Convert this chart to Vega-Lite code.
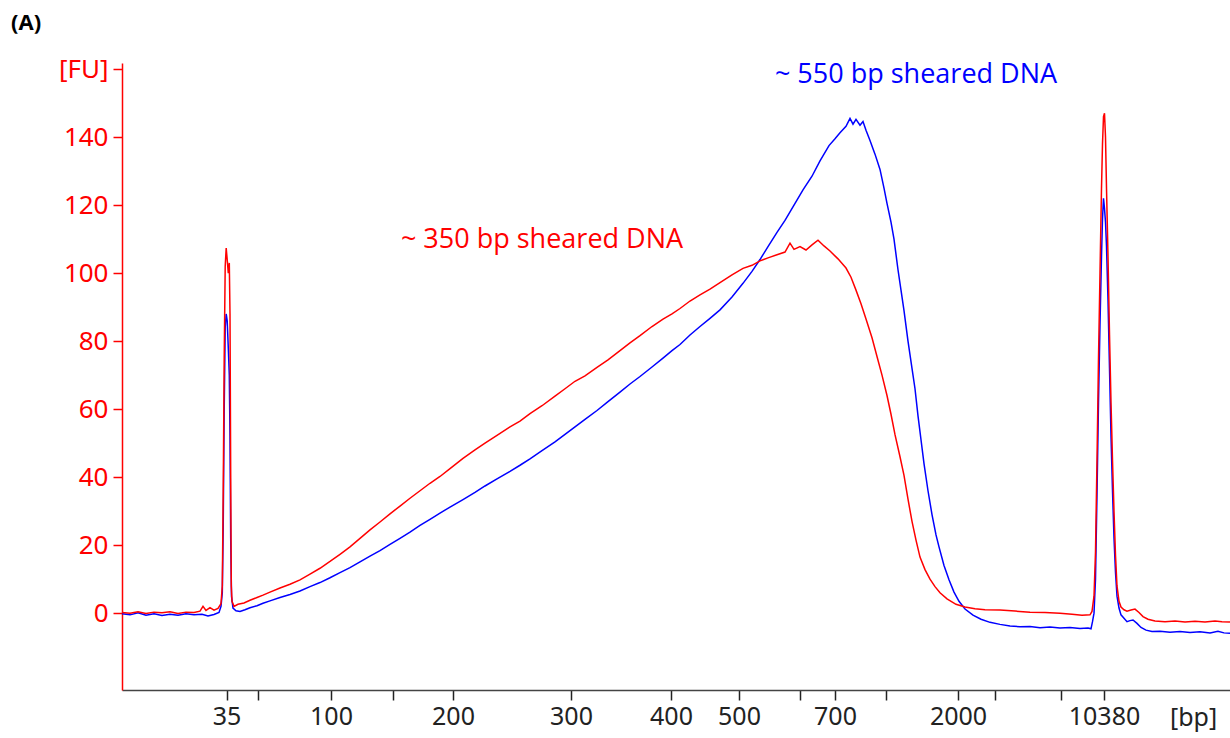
{
  "$schema": "https://vega.github.io/schema/vega-lite/v6.json",
  "width": 1108,
  "height": 627,
  "autosize": {"type": "none"},
  "padding": {"left": 122, "top": 63, "right": 0, "bottom": 48},
  "background": "white",
  "title": {"text": "(A)", "anchor": "start", "frame": "group", "dx": -111, "offset": 21, "fontSize": 22, "fontWeight": "bold", "font": "Open Sans", "color": "#000000"},
  "config": {"view": {"stroke": null}},
  "datasets": {
    "s350": [
      {"t":0.0,"fu":0.2},{"t":0.8,"fu":0.0},{"t":1.6,"fu":0.4},{"t":2.4,"fu":-0.1},{"t":3.2,"fu":0.3},{"t":4.0,"fu":0.1},{"t":4.8,"fu":0.4},{"t":5.6,"fu":-0.1},{"t":6.4,"fu":0.3},{"t":7.2,"fu":0.2},{"t":7.8,"fu":0.6},{"t":8.1,"fu":2.0},{"t":8.4,"fu":0.8},{"t":8.8,"fu":1.6},{"t":9.2,"fu":0.9},{"t":9.6,"fu":1.4},{"t":9.9,"fu":2.8},
      {"t":10.03,"fu":8},{"t":10.12,"fu":35},{"t":10.22,"fu":75},{"t":10.32,"fu":102},{"t":10.42,"fu":107.4},{"t":10.52,"fu":104},{"t":10.63,"fu":100},{"t":10.73,"fu":103},{"t":10.8,"fu":88},{"t":10.87,"fu":40},{"t":10.93,"fu":8},{"t":11.0,"fu":3.5},
      {"t":11.2,"fu":2.0},{"t":11.6,"fu":2.6},{"t":12.2,"fu":3.0},{"t":12.8,"fu":3.8},{"t":13.5,"fu":4.6},{"t":14.1,"fu":5.3},{"t":14.8,"fu":6.2},{"t":15.8,"fu":7.4},{"t":16.8,"fu":8.5},{"t":17.8,"fu":9.8},{"t":18.8,"fu":11.5},{"t":19.8,"fu":13.2},{"t":20.8,"fu":15.2},{"t":21.8,"fu":17.3},{"t":22.8,"fu":19.5},{"t":23.8,"fu":22},{"t":24.8,"fu":24.5},{"t":25.8,"fu":26.8},{"t":26.8,"fu":29.2},{"t":27.8,"fu":31.5},{"t":28.8,"fu":33.8},{"t":29.8,"fu":36},{"t":30.8,"fu":38.2},{"t":31.8,"fu":40.2},{"t":32.8,"fu":42.5},{"t":34.1,"fu":45.5},{"t":35.3,"fu":48},{"t":36.3,"fu":50},{"t":37.5,"fu":52.3},{"t":38.8,"fu":54.8},{"t":39.8,"fu":56.5},{"t":40.8,"fu":58.7},{"t":42.0,"fu":61},{"t":43.3,"fu":63.8},{"t":44.3,"fu":66},{"t":45.3,"fu":68.2},{"t":46.3,"fu":69.8},{"t":47.5,"fu":72.3},{"t":48.6,"fu":74.5},{"t":49.8,"fu":77.2},{"t":50.8,"fu":79.5},{"t":51.8,"fu":81.6},{"t":53.0,"fu":84.3},{"t":54.1,"fu":86.5},{"t":55.0,"fu":88},{"t":55.8,"fu":89.6},{"t":56.8,"fu":91.8},{"t":57.8,"fu":93.6},{"t":58.8,"fu":95.3},{"t":59.8,"fu":97.2},{"t":61.0,"fu":99.5},{"t":62.1,"fu":101.4},{"t":63.0,"fu":102.3},{"t":63.8,"fu":103.6},{"t":64.6,"fu":104.5},{"t":65.5,"fu":105.4},{"t":66.3,"fu":106.2},{"t":66.8,"fu":108.8},{"t":67.2,"fu":107},{"t":67.8,"fu":107.8},{"t":68.4,"fu":106.8},{"t":69.0,"fu":108.3},{"t":69.6,"fu":109.7},{"t":70.2,"fu":108},{"t":70.8,"fu":106.5},{"t":71.6,"fu":104.2},{"t":72.4,"fu":101.5},{"t":72.9,"fu":98.8},{"t":73.4,"fu":95},{"t":73.9,"fu":91},{"t":74.4,"fu":86.5},{"t":75.0,"fu":81},{"t":75.5,"fu":75.5},{"t":76.0,"fu":70},{"t":76.5,"fu":64},{"t":76.9,"fu":58.5},{"t":77.3,"fu":52.5},{"t":77.8,"fu":46},{"t":78.2,"fu":40.5},{"t":78.6,"fu":33.5},{"t":79.0,"fu":27},{"t":79.4,"fu":21.5},{"t":79.8,"fu":16.5},{"t":80.3,"fu":12.8},{"t":80.8,"fu":10},{"t":81.3,"fu":7.8},{"t":81.8,"fu":6},{"t":82.5,"fu":4.2},{"t":83.4,"fu":2.6},{"t":84.3,"fu":1.8},{"t":85.3,"fu":1.3},{"t":86.3,"fu":1.0},{"t":87.8,"fu":0.9},{"t":89.3,"fu":0.6},{"t":90.8,"fu":0.3},{"t":92.3,"fu":0.2},{"t":93.8,"fu":0.0},{"t":95.0,"fu":-0.3},{"t":96.0,"fu":-0.6},{"t":96.8,"fu":-0.5},
      {"t":97.0,"fu":0.5},{"t":97.2,"fu":5},{"t":97.35,"fu":18},{"t":97.5,"fu":45},{"t":97.65,"fu":75},{"t":97.8,"fu":100},{"t":97.95,"fu":125},{"t":98.05,"fu":138},{"t":98.15,"fu":146},{"t":98.25,"fu":147},{"t":98.35,"fu":140},{"t":98.45,"fu":125},{"t":98.6,"fu":105},{"t":98.75,"fu":82},{"t":98.9,"fu":62},{"t":99.05,"fu":45},{"t":99.2,"fu":30},{"t":99.35,"fu":17},{"t":99.5,"fu":8},{"t":99.7,"fu":3.5},{"t":99.9,"fu":1.8},
      {"t":100.2,"fu":1.0},{"t":100.5,"fu":0.6},{"t":100.9,"fu":0.9},{"t":101.3,"fu":1.2},{"t":101.7,"fu":0.2},{"t":102.1,"fu":-1.0},{"t":102.6,"fu":-1.8},{"t":103.3,"fu":-2.3},{"t":104.3,"fu":-2.5},{"t":105.3,"fu":-2.3},{"t":106.3,"fu":-2.6},{"t":107.3,"fu":-2.4},{"t":108.3,"fu":-2.6},{"t":109.3,"fu":-2.3},{"t":110.0,"fu":-2.5},{"t":110.8,"fu":-2.6}
    ],
    "s550": [
      {"t":0.0,"fu":-0.2},{"t":0.8,"fu":-0.5},{"t":1.6,"fu":0.1},{"t":2.4,"fu":-0.6},{"t":3.2,"fu":-0.2},{"t":4.0,"fu":-0.7},{"t":4.8,"fu":-0.3},{"t":5.6,"fu":-0.6},{"t":6.4,"fu":-0.2},{"t":7.2,"fu":-0.5},{"t":8.0,"fu":-0.3},{"t":8.6,"fu":-0.8},{"t":9.2,"fu":-0.4},{"t":9.7,"fu":0.2},{"t":9.9,"fu":2},
      {"t":10.03,"fu":6},{"t":10.12,"fu":25},{"t":10.22,"fu":60},{"t":10.32,"fu":84},{"t":10.42,"fu":88},{"t":10.52,"fu":86},{"t":10.63,"fu":78},{"t":10.73,"fu":70},{"t":10.8,"fu":52},{"t":10.87,"fu":22},{"t":10.95,"fu":5},{"t":11.1,"fu":1.5},
      {"t":11.4,"fu":0.7},{"t":11.8,"fu":0.5},{"t":12.3,"fu":1.0},{"t":12.8,"fu":1.6},{"t":13.5,"fu":2.2},{"t":14.1,"fu":2.9},{"t":14.8,"fu":3.6},{"t":15.8,"fu":4.6},{"t":16.8,"fu":5.5},{"t":17.8,"fu":6.5},{"t":18.8,"fu":7.8},{"t":19.8,"fu":9.0},{"t":20.8,"fu":10.4},{"t":21.8,"fu":11.9},{"t":22.8,"fu":13.4},{"t":23.8,"fu":15.1},{"t":24.8,"fu":16.8},{"t":25.8,"fu":18.4},{"t":26.8,"fu":20.2},{"t":27.8,"fu":22},{"t":28.8,"fu":23.8},{"t":29.8,"fu":25.8},{"t":30.8,"fu":27.6},{"t":31.8,"fu":29.4},{"t":32.8,"fu":31.2},{"t":34.1,"fu":33.4},{"t":35.3,"fu":35.5},{"t":36.3,"fu":37.4},{"t":37.5,"fu":39.5},{"t":38.8,"fu":41.7},{"t":39.8,"fu":43.5},{"t":40.8,"fu":45.4},{"t":42.0,"fu":47.8},{"t":43.3,"fu":50.4},{"t":44.3,"fu":52.6},{"t":45.3,"fu":54.8},{"t":46.3,"fu":57},{"t":47.5,"fu":59.6},{"t":48.6,"fu":62.2},{"t":49.8,"fu":65},{"t":50.8,"fu":67.4},{"t":51.8,"fu":69.6},{"t":53.0,"fu":72.4},{"t":54.1,"fu":75},{"t":55.0,"fu":77.2},{"t":55.8,"fu":79},{"t":56.8,"fu":81.8},{"t":57.8,"fu":84.3},{"t":58.8,"fu":86.7},{"t":59.8,"fu":89.2},{"t":61.0,"fu":93},{"t":62.1,"fu":97},{"t":63.0,"fu":100.5},{"t":63.8,"fu":104},{"t":64.6,"fu":107.8},{"t":65.5,"fu":112},{"t":66.3,"fu":115.5},{"t":67.2,"fu":120},{"t":68.1,"fu":124.5},{"t":69.0,"fu":128.5},{"t":69.8,"fu":133},{"t":70.7,"fu":137.5},{"t":71.3,"fu":139.5},{"t":71.8,"fu":141.3},{"t":72.4,"fu":143.2},{"t":72.8,"fu":145.5},{"t":73.1,"fu":143.8},{"t":73.4,"fu":145.2},{"t":73.8,"fu":143.5},{"t":74.1,"fu":144.6},{"t":74.4,"fu":142},{"t":74.8,"fu":139},{"t":75.3,"fu":135},{"t":75.8,"fu":130.5},{"t":76.2,"fu":125},{"t":76.5,"fu":120.5},{"t":76.9,"fu":115},{"t":77.2,"fu":110},{"t":77.6,"fu":101},{"t":77.9,"fu":95},{"t":78.2,"fu":89},{"t":78.6,"fu":80},{"t":79.0,"fu":72},{"t":79.3,"fu":66},{"t":79.6,"fu":58},{"t":79.9,"fu":51},{"t":80.2,"fu":44},{"t":80.6,"fu":36},{"t":81.0,"fu":29},{"t":81.4,"fu":23},{"t":81.7,"fu":19.5},{"t":82.2,"fu":14},{"t":82.7,"fu":9.8},{"t":83.2,"fu":6.2},{"t":83.7,"fu":3.5},{"t":84.3,"fu":1.2},{"t":85.1,"fu":-0.6},{"t":85.9,"fu":-1.8},{"t":86.8,"fu":-2.7},{"t":87.8,"fu":-3.3},{"t":88.8,"fu":-3.8},{"t":89.8,"fu":-4.0},{"t":90.8,"fu":-3.9},{"t":91.8,"fu":-4.3},{"t":92.8,"fu":-4.1},{"t":93.8,"fu":-4.4},{"t":94.8,"fu":-4.2},{"t":95.8,"fu":-4.5},{"t":96.6,"fu":-4.4},{"t":96.9,"fu":-4.6},
      {"t":97.05,"fu":-2.5},{"t":97.2,"fu":0},{"t":97.35,"fu":10},{"t":97.5,"fu":35},{"t":97.65,"fu":62},{"t":97.8,"fu":85},{"t":97.95,"fu":105},{"t":98.05,"fu":116},{"t":98.15,"fu":122},{"t":98.25,"fu":119},{"t":98.35,"fu":115},{"t":98.45,"fu":108},{"t":98.6,"fu":92},{"t":98.75,"fu":72},{"t":98.9,"fu":52},{"t":99.05,"fu":36},{"t":99.2,"fu":22},{"t":99.35,"fu":12},{"t":99.5,"fu":5},{"t":99.7,"fu":1.5},{"t":99.9,"fu":-0.5},
      {"t":100.2,"fu":-1.5},{"t":100.5,"fu":-2.5},{"t":100.8,"fu":-2.2},{"t":101.1,"fu":-2.0},{"t":101.5,"fu":-3.0},{"t":101.9,"fu":-4.2},{"t":102.4,"fu":-5.0},{"t":103.0,"fu":-5.4},{"t":103.8,"fu":-5.3},{"t":104.8,"fu":-5.6},{"t":105.8,"fu":-5.4},{"t":106.8,"fu":-5.7},{"t":107.8,"fu":-5.5},{"t":108.8,"fu":-5.8},{"t":109.6,"fu":-5.3},{"t":110.2,"fu":-5.8},{"t":110.8,"fu":-5.9}
    ]
  },
  "layer": [
    {
      "data": {"name": "s550"},
      "mark": {"type": "line", "color": "#0000ff", "strokeWidth": 1.5},
      "encoding": {
        "x": {
          "field": "t", "type": "quantitative",
          "scale": {"domain": [0, 110.8], "nice": false, "zero": false},
          "axis": {
            "values": [10.45, 13.6, 20.9, 27.1, 33.1, 44.9, 54.9, 61.7, 67.8, 71.3, 76.4, 83.6, 87.3, 93.9, 98.2],
            "labelExpr": "datum.value==10.45?'35':datum.value==20.9?'100':datum.value==33.1?'200':datum.value==44.9?'300':datum.value==54.9?'400':datum.value==61.7?'500':datum.value==71.3?'700':datum.value==83.6?'2000':datum.value==98.2?'10380':''",
            "title": "[bp]", "titleX": 1071, "titleY": 27, "titleAngle": 0, "titleAlign": "center", "titleBaseline": "middle",
            "titleFontWeight": "normal", "titleFontSize": 25, "titleFont": "Noto Sans", "titleColor": "#222222",
            "domainColor": "#444444", "domainWidth": 1.5, "tickColor": "#222222", "tickSize": 10, "tickWidth": 1.5,
            "labelFontSize": 25, "labelFont": "Noto Sans", "labelColor": "#222222", "labelPadding": 4,
            "grid": false, "labelOverlap": false, "labelFlush": false
          }
        },
        "y": {
          "field": "fu", "type": "quantitative",
          "scale": {"domain": [-22.6, 161.8], "nice": false, "zero": false},
          "axis": {
            "values": [0, 20, 40, 60, 80, 100, 120, 140, 160],
            "labelExpr": "datum.value==160?'[FU]':datum.label",
            "title": null,
            "domainColor": "#ff0000", "domainWidth": 1.5, "tickColor": "#ff0000", "tickSize": 9, "tickWidth": 1.5,
            "labelColor": "#ff0000", "labelFontSize": 26, "labelFont": "Noto Sans", "labelPadding": 5,
            "grid": false
          }
        }
      }
    },
    {
      "data": {"name": "s350"},
      "mark": {"type": "line", "color": "#ff0000", "strokeWidth": 1.5},
      "encoding": {
        "x": {"field": "t", "type": "quantitative"},
        "y": {"field": "fu", "type": "quantitative"}
      }
    },
    {
      "data": {"values": [
        {"t": 79.4, "fu": 158.2, "label": "~ 550 bp sheared DNA", "sample": "550"},
        {"t": 42.0, "fu": 109.7, "label": "~ 350 bp sheared DNA", "sample": "350"}
      ]},
      "mark": {"type": "text", "font": "Open Sans", "fontSize": 27, "align": "center", "baseline": "middle"},
      "encoding": {
        "x": {"field": "t", "type": "quantitative"},
        "y": {"field": "fu", "type": "quantitative"},
        "text": {"field": "label"},
        "color": {"field": "sample", "type": "nominal", "scale": {"domain": ["550", "350"], "range": ["#0000ff", "#ff0000"]}, "legend": null}
      }
    }
  ]
}
